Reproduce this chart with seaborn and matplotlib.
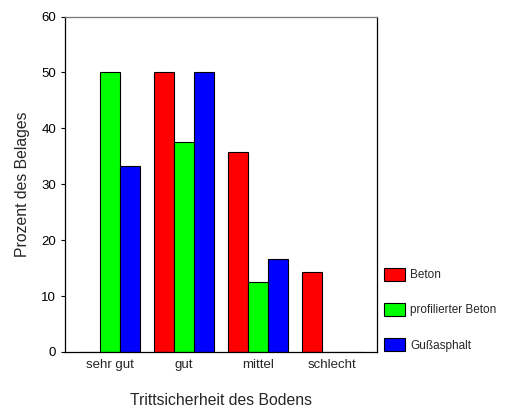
import numpy as np
import pandas as pd
import seaborn as sns
import matplotlib.pyplot as plt
from matplotlib.patches import Patch

categories = ["sehr gut", "gut", "mittel", "schlecht"]
surfaces = ["Beton", "profilierter Beton", "Gußasphalt"]
beton = [0.0, 50.0, 35.7, 14.3]
profiliert = [50.0, 37.5, 12.5, 0.0]
gussasphalt = [33.3, 50.0, 16.7, 0.0]
colors = ["#ff0000", "#00ff00", "#0000ff"]

df = pd.DataFrame({
    "Kategorie": categories * 3,
    "Belag": [s for s in surfaces for _ in categories],
    "Prozent": beton + profiliert + gussasphalt,
})

sns.set_style("ticks")
plt.rcParams["font.family"] = ["Liberation Sans", "DejaVu Sans"]

fig = plt.figure(figsize=(5.07, 4.08), dpi=100)
ax = fig.add_axes([65 / 507, 1 - 352 / 408, 312 / 507, 335.5 / 408])

sns.barplot(
    data=df, x="Kategorie", y="Prozent", hue="Belag",
    order=categories, hue_order=surfaces, palette=colors, saturation=1,
    width=0.81, edgecolor="black", linewidth=0.8, legend=False, ax=ax,
)

ax.set_xlim(-0.608, 3.608)
ax.set_ylim(0, 60)
ax.set_yticks([0, 10, 20, 30, 40, 50, 60])
ax.tick_params(axis="y", length=3, width=0.8, labelsize=9.5, colors="black")
ax.tick_params(axis="x", length=0, labelsize=9.5, pad=5)
for side in ["left", "bottom", "right"]:
    ax.spines[side].set_color("black")
    ax.spines[side].set_linewidth(0.9)
ax.spines["top"].set_color("#777777")
ax.spines["top"].set_linewidth(0.9)

ax.set_xlabel("Trittsicherheit des Bodens", fontsize=11.3, labelpad=16)
ax.set_ylabel("Prozent des Belages", fontsize=11.3, labelpad=8)

handles = [Patch(facecolor=c, edgecolor="black", linewidth=0.8) for c in colors]
fig.legend(
    handles, surfaces, loc="upper left", bbox_to_anchor=(384 / 507, 1 - 268 / 408),
    frameon=False, fontsize=8.5, handlelength=1.8, handleheight=1.27,
    labelspacing=1.85, handletextpad=0.4, borderaxespad=0, borderpad=0,
)

fig.savefig("out.png", dpi=100)
